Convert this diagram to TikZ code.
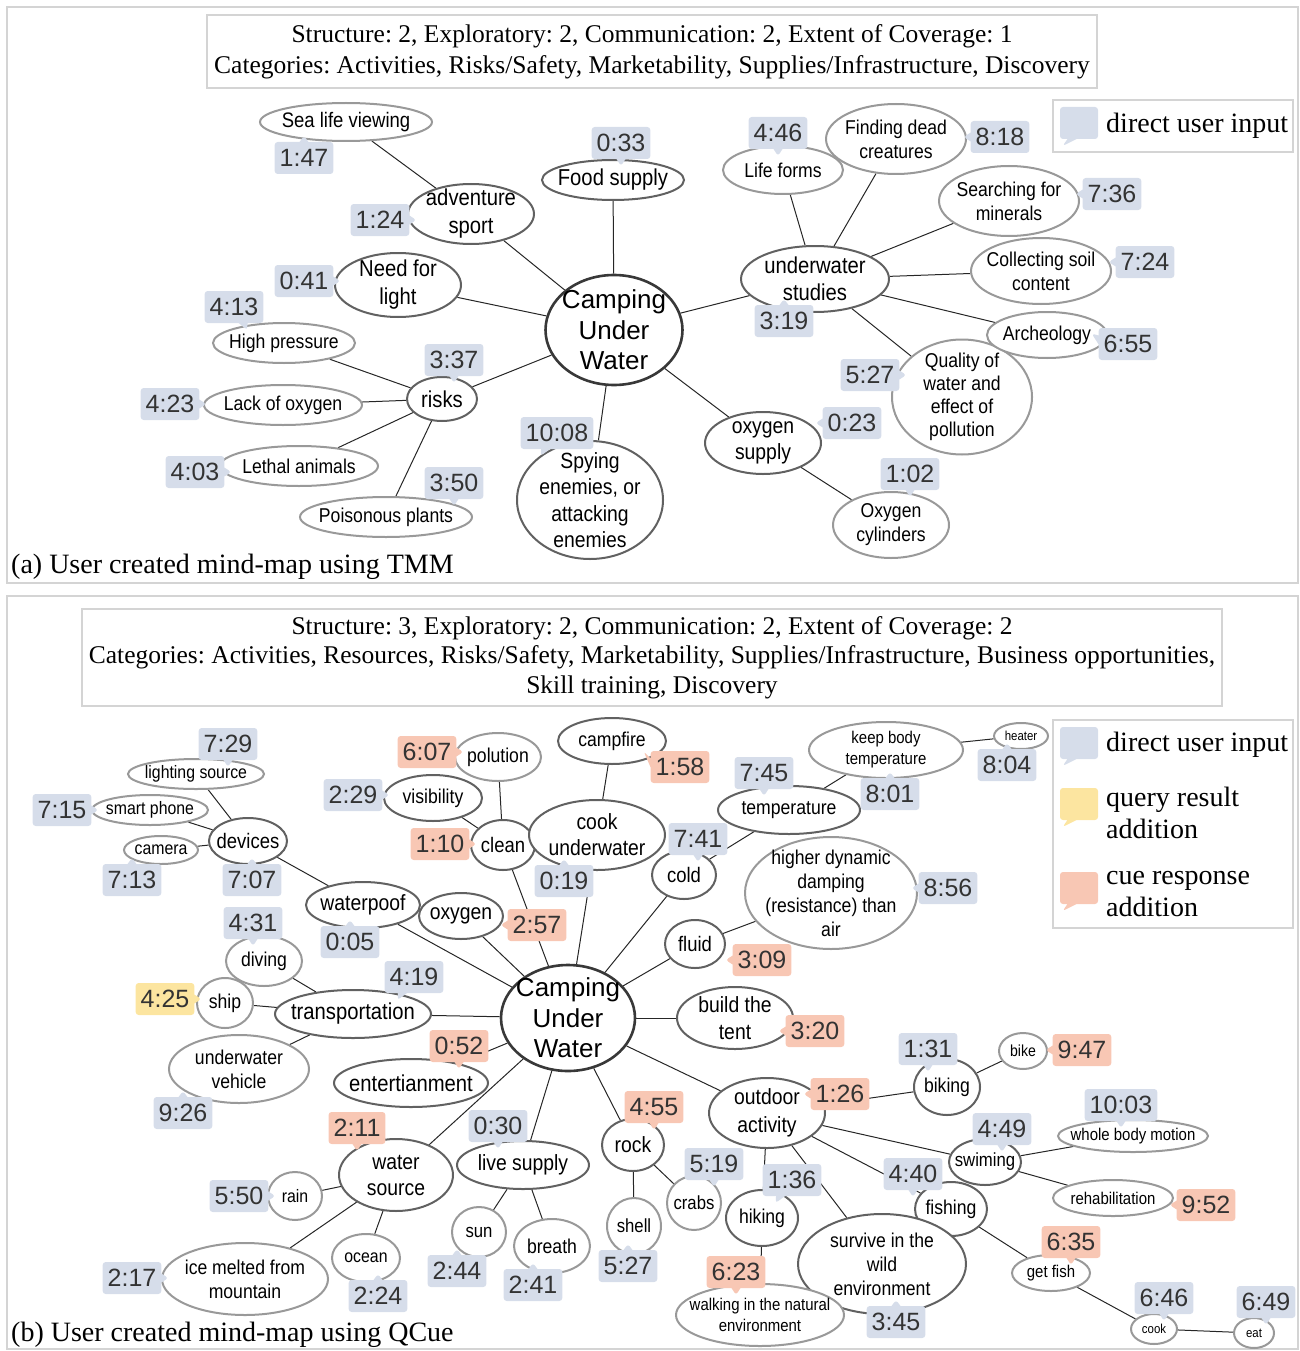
\documentclass[tikz,border=0pt]{standalone}
\usepackage{fontspec}
\setmainfont{Liberation Serif}
\newfontfamily\nodefont[FakeStretch=0.88]{Liberation Sans}
\newfontfamily\timefont{Liberation Sans}
\usetikzlibrary{shapes.geometric,shapes.callouts,backgrounds}
\definecolor{ublue}{RGB}{214,221,234}
\definecolor{cuepink}{RGB}{248,199,180}
\definecolor{qyellow}{RGB}{252,229,160}
\definecolor{panelgray}{RGB}{212,212,212}
\newcommand{\nf}[2]{\nodefont\fontsize{#1}{#2}\selectfont}
\tikzset{
    link/.style  = {draw=black!85, line width=1pt},
    idea/.style  = {ellipse, fill=white, line width=2pt, align=center, inner xsep=-20pt, inner ysep=-12pt, text=black},
    hub/.style   = {idea, draw=black!78, line width=2.6pt, font={\timefont\fontsize{26}{30.5}\selectfont}},
    mid/.style   = {idea, draw=black!62},
    leaf/.style  = {idea, draw=black!40},
    sz/.style 2 args = {minimum width=#1pt, minimum height=#2pt},
    tlab/.style  = {rectangle callout, rounded corners=3pt, inner xsep=5pt, inner ysep=0pt, minimum height=32pt,
                    callout pointer width=9pt, text=black!80, font={\timefont\fontsize{25}{28}\selectfont}},
    tb/.style    = {tlab, fill=ublue, callout relative pointer={#1}},
    tp/.style    = {tlab, fill=cuepink, callout relative pointer={#1}},
    ty/.style    = {tlab, fill=qyellow, callout relative pointer={#1}}
}

\begin{document}
\frenchspacing
\begin{tikzpicture}[x=1pt, y=-1pt,
        panel/.style   = {draw=panelgray, line width=1.5pt},
        hdr/.style     = {draw=panelgray, line width=1.2pt, align=center, inner sep=0pt, font=\fontsize{25.5}{31}\selectfont},
        captxt/.style  = {anchor=west, inner sep=0pt, font=\fontsize{28}{32}\selectfont},
        legtxt/.style  = {anchor=west, inner sep=0pt, align=left, font=\fontsize{28}{32}\selectfont}
    ]
    \useasboundingbox (0,0) rectangle (1300,1351);

    %%%%%%%%%% (a) TMM %%%%%%%%%%
    \node[hdr, sz={890}{73}] (hdrA) at (652,51.5) {Structure: 2, Exploratory: 2, Communication: 2, Extent of Coverage: 1\\Categories: Activities, Risks/Safety, Marketability, Supplies/Infrastructure, Discovery};
    \node[hdr, sz={240}{52}] (legA) at (1173,126) {};
    \node[tb={(-5pt,-7pt)}, minimum width=38pt] (swA) at (1079,123) {};
    \node[legtxt] (legAtxt) at (1106,126) {direct user input};
    \node[captxt] (capA) at (11,567) {(a) User created mind-map using TMM};

    % Center Block
    \node[hub, sz={137}{110}] (hubA) at (614,330) {Camping\\Under\\Water};

    % Left side
    \node[mid, sz={126}{60}, font=\nf{23}{28}] (adv) at (471,214) {adventure\\sport};
    \node[leaf, sz={172}{38}, font=\nf{21}{24}] (sea) at (346,122) {Sea life viewing};
    \node[mid, sz={142}{40}, font=\nf{23}{27}] (food) at (613,180) {Food supply};
    \node[mid, sz={126}{64}, font=\nf{23}{28}] (light) at (398,285) {Need for\\light};
    \node[mid, sz={70}{44}, font=\nf{23}{27}] (risk) at (442,399) {risks};
    \node[leaf, sz={142}{40}, font=\nf{20}{24}] (press) at (284,343) {High pressure};
    \node[leaf, sz={158}{40}, font=\nf{20}{24}] (lack) at (283,405) {Lack of oxygen};
    \node[leaf, sz={158}{40}, font=\nf{20}{24}] (lethal) at (299,466) {Lethal animals};
    \node[leaf, sz={172}{40}, font=\nf{20}{24}] (poison) at (386,517) {Poisonous plants};
    \node[mid, sz={146}{118}, font=\nf{22}{26.5}] (spy) at (590,500) {Spying\\enemies, or\\attacking\\enemies};

    % Right side
    \node[mid, sz={116}{62}, font=\nf{22}{26}] (oxsup) at (763,443) {oxygen\\supply};
    \node[leaf, sz={116}{66}, font=\nf{20}{24}] (cyl) at (891,525) {Oxygen\\cylinders};
    \node[mid, sz={148}{66}, font=\nf{23}{27}] (study) at (815,279) {underwater\\studies};
    \node[leaf, sz={120}{48}, font=\nf{20}{24}] (life) at (783,170) {Life forms};
    \node[leaf, sz={140}{70}, font=\nf{20}{24}] (dead) at (896,139) {Finding dead\\creatures};
    \node[leaf, sz={140}{70}, font=\nf{20}{24}] (mineral) at (1009,201) {Searching for\\minerals};
    \node[leaf, sz={140}{66}, font=\nf{20}{24}] (soil) at (1041,271) {Collecting soil\\content};
    \node[leaf, sz={140}{115}, font=\nf{20}{23}] (quality) at (962,397) {Quality of\\water and\\effect of\\pollution};
    \node[leaf, sz={120}{46}, font=\nf{20}{24}] (arch) at (1047,335) {Archeology};

    % Time stamps
    \node[tb={(0pt,6pt)}] (t147) at (304,158) {1:47};
    \node[tb={(7pt,0pt)}] (t124) at (380,220) {1:24};
    \node[tb={(0pt,-7pt)}] (t033) at (621,143) {0:33};
    \node[tb={(7pt,0pt)}] (t041) at (304,281) {0:41};
    \node[tb={(4pt,-7pt)}] (t413) at (234,307) {4:13};
    \node[tb={(0pt,-7pt)}] (t337) at (454,360) {3:37};
    \node[tb={(7pt,0pt)}] (t423) at (170,404) {4:23};
    \node[tb={(7pt,0pt)}] (t403) at (195,472) {4:03};
    \node[tb={(0pt,-7pt)}] (t350) at (454,483) {3:50};
    \node[tb={(-5pt,-7pt)}] (t1008) at (557,433) {10:08};
    \node[tb={(-7pt,0pt)}] (t023) at (852,423) {0:23};
    \node[tb={(0pt,-7pt)}] (t102) at (910,474) {1:02};
    \node[tb={(0pt,6pt)}] (t319) at (784,321) {3:19};
    \node[tb={(0pt,-7pt)}] (t446) at (778,133) {4:46};
    \node[tb={(-7pt,0pt)}] (t818) at (1000,137) {8:18};
    \node[tb={(-7pt,0pt)}] (t736) at (1112,194) {7:36};
    \node[tb={(-7pt,0pt)}] (t724) at (1145,262) {7:24};
    \node[tb={(-7pt,2pt)}] (t655) at (1128,344) {6:55};
    \node[tb={(7pt,0pt)}] (t527a) at (870,375) {5:27};

    %%%%%%%%%% (b) QCue %%%%%%%%%%
    \node[hdr, sz={1140}{97}, font=\fontsize{25.5}{29.5}\selectfont] (hdrB) at (652,657.5) {Structure: 3, Exploratory: 2, Communication: 2, Extent of Coverage: 2\\Categories: Activities, Resources, Risks/Safety, Marketability, Supplies/Infrastructure, Business opportunities,\\Skill training, Discovery};
    \node[hdr, sz={240}{208}] (legB) at (1173,824) {};
    \node[tb={(-5pt,-7pt)}, minimum width=38pt] (swB1) at (1079,743) {};
    \node[ty={(-5pt,-7pt)}, minimum width=38pt] (swB2) at (1079,804) {};
    \node[tp={(-5pt,-7pt)}, minimum width=38pt] (swB3) at (1079,888) {};
    \node[legtxt] (legB1) at (1106,745) {direct user input};
    \node[legtxt] (legB2) at (1106,813) {query result\\addition};
    \node[legtxt] (legB3) at (1106,894) {cue response\\addition};
    \node[captxt] (capB) at (11,1335) {(b) User created mind-map using QCue};

    % Center Block
    \node[hub, sz={134}{106}] (hubB) at (568,1018) {Camping\\Under\\Water};

    % Upper left
    \node[leaf, sz={136}{30}, font=\nf{18}{21}] (lsrc) at (196,774) {lighting source};
    \node[leaf, sz={116}{30}, font=\nf{18}{21}] (phone) at (150,810) {smart phone};
    \node[leaf, sz={74}{28}, font=\nf{18}{21}] (cam) at (161,850) {camera};
    \node[mid, sz={78}{46}, font=\nf{21}{24}] (dev) at (248,841) {devices};
    \node[mid, sz={114}{46}, font=\nf{22}{26}] (wproof) at (363,905) {waterpoof};
    \node[mid, sz={84}{46}, font=\nf{22}{26}] (oxy) at (461,916) {oxygen};

    % Left
    \node[leaf, sz={76}{50}, font=\nf{20}{24}] (dive) at (264,961) {diving};
    \node[leaf, sz={56}{50}, font=\nf{20}{24}] (ship) at (225,1003) {ship};
    \node[mid, sz={156}{48}, font=\nf{23}{27}] (trans) at (353,1014) {transportation};
    \node[leaf, sz={140}{68}, font=\nf{20}{24}] (uwv) at (239,1069) {underwater\\vehicle};
    \node[mid, sz={154}{48}, font=\nf{23}{27}] (ent) at (411,1083) {entertianment};

    % Lower left
    \node[mid, sz={114}{72}, font=\nf{22}{26}] (wsrc) at (396,1175) {water\\source};
    \node[leaf, sz={54}{48}, font=\nf{18}{21}] (rain) at (295,1196) {rain};
    \node[leaf, sz={166}{72}, font=\nf{20}{24}] (ice) at (245,1279) {ice melted from\\mountain};
    \node[leaf, sz={68}{48}, font=\nf{18}{21}] (ocean) at (366,1258) {ocean};
    \node[mid, sz={132}{48}, font=\nf{22}{26}] (live) at (523,1165) {live supply};
    \node[leaf, sz={54}{50}, font=\nf{19}{22}] (sun) at (479,1232) {sun};
    \node[leaf, sz={76}{54}, font=\nf{20}{24}] (breath) at (552,1246) {breath};
    \node[mid, sz={62}{52}, font=\nf{22}{26}] (rock) at (633,1145) {rock};
    \node[leaf, sz={54}{56}, font=\nf{19}{22}] (shell) at (634,1226) {shell};
    \node[leaf, sz={54}{54}, font=\nf{19}{22}] (crab) at (694,1203) {crabs};

    % Lower right
    \node[mid, sz={116}{70}, font=\nf{22}{28}] (out) at (767,1113) {outdoor\\activity};
    \node[mid, sz={66}{56}, font=\nf{20}{24}] (biking) at (947,1087) {biking};
    \node[leaf, sz={48}{36}, font=\nf{16}{19}] (bike) at (1023,1051) {bike};
    \node[mid, sz={72}{46}, font=\nf{19}{22}] (swim) at (985,1162) {swiming};
    \node[leaf, sz={150}{32}, font=\nf{17}{20}] (whole) at (1133,1136) {whole body motion};
    \node[leaf, sz={120}{36}, font=\nf{17}{20}] (rehab) at (1113,1198) {rehabilitation};
    \node[mid, sz={72}{54}, font=\nf{20}{24}] (fish) at (951,1209) {fishing};
    \node[leaf, sz={78}{36}, font=\nf{17}{20}] (getfish) at (1051,1273) {get fish};
    \node[leaf, sz={46}{30}, font=\nf{13}{16}] (cookB) at (1154,1329) {cook};
    \node[leaf, sz={40}{30}, font=\nf{13}{16}] (eat) at (1254,1333) {eat};
    \node[mid, sz={72}{56}, font=\nf{20}{24}] (hike) at (762,1218) {hiking};
    \node[mid, sz={168}{100}, font=\nf{20}{24}] (wild) at (882,1264) {survive in the\\wild\\environment};
    \node[leaf, sz={168}{62}, font=\nf{17}{21}] (walk) at (760,1315) {walking in the natural\\environment};

    % Upper right
    \node[mid, sz={116}{62}, font=\nf{22}{27}] (tent) at (735,1018) {build the\\tent};
    \node[mid, sz={60}{48}, font=\nf{21}{25}] (fluid) at (695,944) {fluid};
    \node[leaf, sz={172}{112}, font=\nf{20}{24}] (damp) at (831,893) {higher dynamic\\damping\\(resistance) than\\air};
    \node[mid, sz={64}{48}, font=\nf{21}{25}] (cold) at (684,875) {cold};
    \node[mid, sz={142}{48}, font=\nf{20}{24}] (temp) at (789,810) {temperature};
    \node[leaf, sz={154}{56}, font=\nf{17}{21}] (body) at (886,750) {keep body\\temperature};
    \node[leaf, sz={54}{26}, font=\nf{13}{16}] (heat) at (1021,736) {heater};

    % Top
    \node[mid, sz={108}{46}, font=\nf{20}{24}] (fire) at (612,741) {campfire};
    \node[mid, sz={64}{50}, font=\nf{21}{25}] (clean) at (503,845) {clean};
    \node[mid, sz={136}{70}, font=\nf{22}{26}] (cookuw) at (597,835) {cook\\underwater};
    \node[mid, sz={98}{46}, font=\nf{20}{24}] (vis) at (433,798) {visibility};
    \node[leaf, sz={86}{48}, font=\nf{20}{24}] (pol) at (498,757) {polution};

    % Time stamps
    \node[tb={(0pt,-7pt)}] (t729) at (228,744) {7:29};
    \node[tb={(7pt,0pt)}] (t715) at (62,810) {7:15};
    \node[tb={(0pt,6pt)}] (t713) at (132,880) {7:13};
    \node[tb={(0pt,6pt)}] (t707) at (252,880) {7:07};
    \node[tb={(0pt,6pt)}] (t005) at (350,942) {0:05};
    \node[tp={(-7pt,0pt)}] (t257) at (537,925) {2:57};
    \node[tb={(0pt,-7pt)}] (t431) at (253,923) {4:31};
    \node[ty={(7pt,0pt)}] (t425) at (165,999) {4:25};
    \node[tb={(-5pt,-7pt)}] (t419) at (414,977) {4:19};
    \node[tb={(0pt,6pt)}] (t926) at (183,1113) {9:26};
    \node[tp={(0pt,-7pt)}] (t052) at (459,1046) {0:52};
    \node[tp={(0pt,-7pt)}] (t211) at (357,1128) {2:11};
    \node[tb={(7pt,0pt)}] (t550) at (239,1196) {5:50};
    \node[tb={(7pt,0pt)}] (t217) at (132,1278) {2:17};
    \node[tb={(0pt,6pt)}] (t224) at (378,1296) {2:24};
    \node[tb={(0pt,-7pt)}] (t030) at (498,1126) {0:30};
    \node[tb={(0pt,6pt)}] (t244) at (457,1271) {2:44};
    \node[tb={(0pt,6pt)}] (t241) at (533,1285) {2:41};
    \node[tp={(0pt,-7pt)}] (t455) at (654,1107) {4:55};
    \node[tb={(0pt,6pt)}] (t527b) at (628,1266) {5:27};
    \node[tb={(0pt,-7pt)}] (t519) at (714,1164) {5:19};
    \node[tp={(-7pt,0pt)}] (t126) at (840,1094) {1:26};
    \node[tb={(0pt,-7pt)}] (t131) at (928,1049) {1:31};
    \node[tp={(-7pt,0pt)}] (t947) at (1082,1050) {9:47};
    \node[tb={(0pt,-7pt)}] (t449) at (1002,1129) {4:49};
    \node[tb={(0pt,-7pt)}] (t1003) at (1121,1105) {10:03};
    \node[tp={(-7pt,0pt)}] (t952) at (1206,1205) {9:52};
    \node[tb={(0pt,-7pt)}] (t440) at (913,1174) {4:40};
    \node[tp={(0pt,-7pt)}] (t635) at (1071,1242) {6:35};
    \node[tb={(0pt,-7pt)}] (t646) at (1164,1298) {6:46};
    \node[tb={(0pt,-7pt)}] (t649) at (1266,1302) {6:49};
    \node[tb={(-5pt,-7pt)}] (t136) at (792,1180) {1:36};
    \node[tp={(0pt,-7pt)}] (t623) at (736,1272) {6:23};
    \node[tb={(0pt,6pt)}] (t345) at (896,1322) {3:45};
    \node[tp={(-7pt,0pt)}] (t320) at (815,1031) {3:20};
    \node[tp={(-7pt,0pt)}] (t309) at (762,960) {3:09};
    \node[tb={(-7pt,0pt)}] (t856) at (948,888) {8:56};
    \node[tb={(0pt,-7pt)}] (t741) at (698,839) {7:41};
    \node[tb={(0pt,-7pt)}] (t745) at (764,773) {7:45};
    \node[tb={(0pt,6pt)}] (t801) at (890,794) {8:01};
    \node[tb={(0pt,6pt)}] (t804) at (1007,765) {8:04};
    \node[tb={(0pt,6pt)}] (t019) at (564,881) {0:19};
    \node[tp={(-7pt,3pt)}] (t158) at (680,767) {1:58};
    \node[tp={(7pt,0pt)}] (t110) at (440,844) {1:10};
    \node[tb={(7pt,0pt)}] (t229) at (353,795) {2:29};
    \node[tp={(7pt,0pt)}] (t607) at (427,752) {6:07};

    % Connectors and panels behind the nodes
    \begin{scope}[on background layer]
        \draw[panel] (7,7) rectangle (1298,583);
        \draw[panel] (7,596) rectangle (1298,1349);

        \foreach \n in {adv,food,light,risk,spy,oxsup,study}
            \draw[link] (hubA) -- (\n);
        \draw[link] (adv) -- (sea);
        \foreach \n in {press,lack,lethal,poison}
            \draw[link] (risk) -- (\n);
        \draw[link] (oxsup) -- (cyl);
        \foreach \n in {life,dead,mineral,soil,arch,quality}
            \draw[link] (study) -- (\n);

        \foreach \n in {wproof,oxy,clean,cookuw,cold,fluid,tent,out,rock,live,wsrc,ent,trans}
            \draw[link] (hubB) -- (\n);
        \foreach \n in {lsrc,phone,cam,wproof}
            \draw[link] (dev) -- (\n);
        \draw[link] (clean) -- (vis);
        \draw[link] (clean) -- (pol);
        \draw[link] (cookuw) -- (fire);
        \draw[link] (cold) -- (temp);
        \draw[link] (temp) -- (body);
        \draw[link] (body) -- (heat);
        \draw[link] (fluid) -- (damp);
        \foreach \n in {biking,swim,fish,hike,wild}
            \draw[link] (out) -- (\n);
        \draw[link] (biking) -- (bike);
        \draw[link] (swim) -- (whole);
        \draw[link] (swim) -- (rehab);
        \draw[link] (fish) -- (getfish);
        \draw[link] (getfish) -- (cookB);
        \draw[link] (cookB) -- (eat);
        \draw[link] (hike) -- (walk);
        \draw[link] (rock) -- (shell);
        \draw[link] (rock) -- (crab);
        \draw[link] (live) -- (sun);
        \draw[link] (live) -- (breath);
        \foreach \n in {rain,ice,ocean}
            \draw[link] (wsrc) -- (\n);
        \foreach \n in {dive,ship,uwv}
            \draw[link] (trans) -- (\n);
    \end{scope}
\end{tikzpicture}
\end{document}
